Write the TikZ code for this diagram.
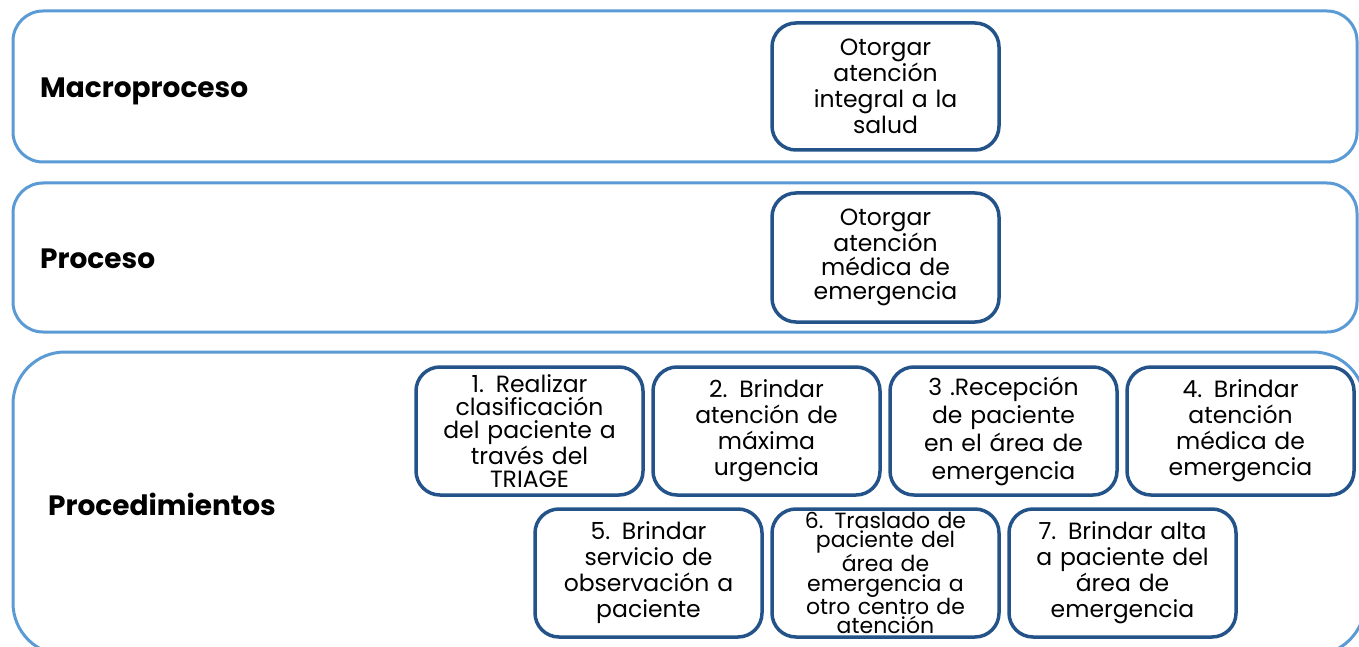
\documentclass[tikz,border=0pt]{standalone}
\usepackage{fontspec}
\setmainfont{Poppins}
\definecolor{lightb}{HTML}{5B9BD5}
\definecolor{darkb}{HTML}{24538A}
\begin{document}
\begin{tikzpicture}[x=1pt,y=-1pt,
  frame/.style={draw=lightb,line width=3pt,rounded corners=30pt},
  pbox/.style={draw=darkb,line width=3.5pt,rounded corners=24pt,fill=white,
    minimum width=227pt,minimum height=128pt,inner sep=0pt,
    text width=222pt,align=center,font=\fontsize{23.5}{26}\selectfont},
  lbl/.style={anchor=base west,inner sep=0pt,font=\fontsize{28}{32}\selectfont\bfseries}]
\useasboundingbox (0,0) rectangle (1359,647);
\clip (0,0) rectangle (1359,647);
\fill[white] (0,0) rectangle (1359,647);
% frames
\draw[frame] (13,11) rectangle (1357,162);
\draw[frame] (13,183) rectangle (1357,332);
\draw[frame,rounded corners=52pt] (13,352) rectangle (1365,655);
% labels
\node[lbl] (lm) at (40,98) {Macroproceso};
\node[lbl] (lp) at (40,268) {Proceso};
\node[lbl] (lc) at (48,515) {Procedimientos};
% macro / proceso boxes
\node[pbox,minimum height=127pt] (ma) at (885.5,86.5) {Otorgar\\atención\\integral a la\\salud};
\node[pbox,minimum height=129pt,font=\fontsize{23.5}{24}\selectfont] (pa) at (885.5,257.5) {Otorgar\\atención\\médica de\\emergencia};
% procedures row 1
\node[pbox,font=\fontsize{23.5}{23}\selectfont] (p1) at (529.5,431) {1. Realizar\\clasificación\\del paciente a\\través del\\TRIAGE};
\node[pbox] (p2) at (766.5,431) {2. Brindar\\atención de\\máxima\\urgencia};
\node[pbox,font=\fontsize{23.5}{28}\selectfont] (p3) at (1003.5,431) {3 .Recepción\\de paciente\\en el área de\\emergencia};
\node[pbox] (p4) at (1240.5,431) {4. Brindar\\atención\\médica de\\emergencia};
% row 2
\node[pbox] (p5) at (648.5,573) {5. Brindar\\servicio de\\observación a\\paciente};
\node[pbox,font=\fontsize{22}{19.5}\selectfont] (p6) at (885.5,573) {6. Traslado de\\paciente del\\área de\\emergencia a\\otro centro de\\atención};
\node[pbox] (p7) at (1122.5,573) {7. Brindar alta\\a paciente del\\área de\\emergencia};
\end{tikzpicture}
\end{document}
